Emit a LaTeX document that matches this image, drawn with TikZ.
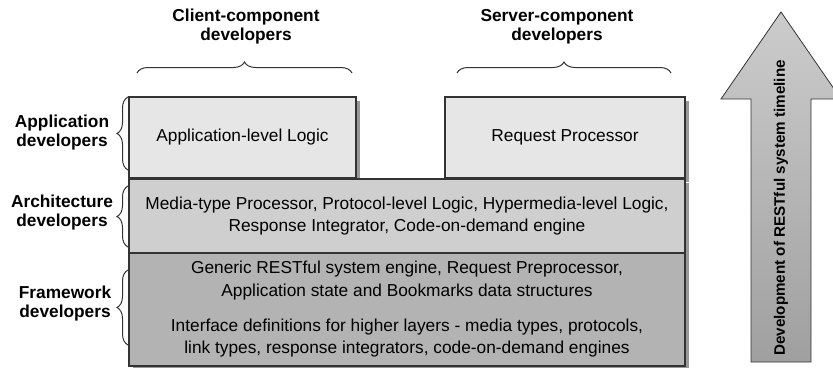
\documentclass[tikz,border=0pt]{standalone}
\usepackage{fontspec}
\setmainfont{Liberation Sans}
\usetikzlibrary{shadows,decorations.pathreplacing}
\definecolor{bordc}{HTML}{333333}
\definecolor{topfill}{HTML}{E6E6E6}
\definecolor{midfill}{HTML}{CFCFCF}
\definecolor{botfill}{HTML}{B3B3B3}
\definecolor{shadc}{HTML}{999999}
\tikzset{
  layerbox/.style={draw=bordc, line width=1.5pt, inner sep=0pt, align=center,
    font=\fontsize{17.3}{22.5}\selectfont,
    drop shadow={shadow xshift=4pt, shadow yshift=-4pt, fill=shadc, opacity=1}},
  rolelabel/.style={align=center, font=\bfseries\fontsize{17.3}{19}\selectfont},
  bracestyle/.style={draw=bordc, line width=1pt, decorate,
    decoration={brace, amplitude=11pt}},
}
\begin{document}
\begin{tikzpicture}[x=1pt, y=-1pt]
\useasboundingbox (0,0) rectangle (833,367);
% boxes
\node[layerbox, fill=topfill, minimum width=227pt, minimum height=81pt] (app) at (242.5,137.5) {Application-level Logic};
\node[layerbox, fill=topfill, minimum width=240pt, minimum height=81pt] (req) at (565,137.5) {Request Processor};
\node[layerbox, fill=midfill, minimum width=556pt, minimum height=74pt] (arch) at (407,216)
  {Media-type Processor, Protocol-level Logic, Hypermedia-level Logic,\\Response Integrator, Code-on-demand engine};
\node[layerbox, fill=botfill, minimum width=556pt, minimum height=113pt] (fw) at (407,309.5)
  {Generic RESTful system engine, Request Preprocessor,\\Application state and Bookmarks data structures\\[12.5pt]
   Interface definitions for higher layers - media types, protocols,\\link types, response integrators, code-on-demand engines};
% left labels and braces
\node[rolelabel] (lapp) at (62,133) {Application\\developers};
\node[rolelabel] (larch) at (62,212.5) {Architecture\\developers};
\node[rolelabel] (lfw) at (65,304) {Framework\\developers};
\coordinate (b1s) at (128,170); \coordinate (b1e) at (128,97);
\coordinate (b2s) at (128,247); \coordinate (b2e) at (128,186);
\coordinate (b3s) at (128,345); \coordinate (b3e) at (128,270);
\draw[bracestyle] (b1s) -- (b1e);
\draw[bracestyle] (b2s) -- (b2e);
\draw[bracestyle] (b3s) -- (b3e);
% top labels and braces
\node[rolelabel] (lclient) at (246,27) {Client-component\\developers};
\node[rolelabel] (lserver) at (557,27) {Server-component\\developers};
\coordinate (t1s) at (137,73); \coordinate (t1e) at (352,73);
\coordinate (t2s) at (457,73); \coordinate (t2e) at (671,73);
\draw[bracestyle] (t1s) -- (t1e);
\draw[bracestyle] (t2s) -- (t2e);
% timeline arrow
\begin{scope}
\clip (0,0) rectangle (833,367);
\shade[top color=gray!40, bottom color=gray!75, draw=bordc, line width=0.8pt]
  (751,362) -- (751,99) -- (721,99) -- (781,12) -- (841,99) -- (811,99) -- (811,362) -- cycle;
\end{scope}
\node[rotate=90, font=\bfseries\fontsize{15.2}{18}\selectfont] (timeline) at (781,208) {Development of RESTful system timeline};
\end{tikzpicture}
\end{document}
